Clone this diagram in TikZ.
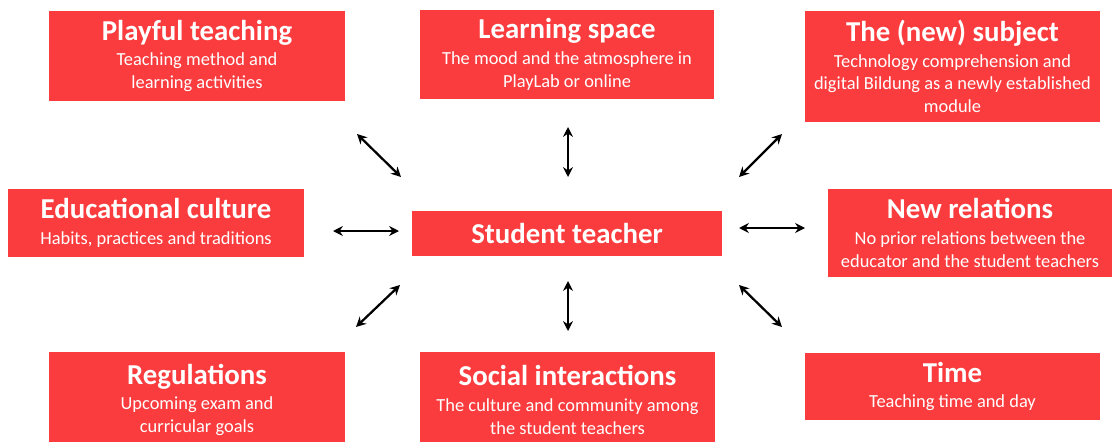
\documentclass[tikz,border=0pt]{standalone}
\usepackage{fontspec}
\setmainfont{Carlito}
\usetikzlibrary{arrows.meta,positioning}
\definecolor{boxred}{RGB}{250,60,62}
\newcommand{\boxtitle}[1]{{\fontsize{20.5}{23}\selectfont\bfseries #1}}

\begin{document}
\begin{tikzpicture}[
			x=0.025cm, y=-0.025cm,
			MyBox/.style={fill=boxred, text=white, align=center,
				inner sep=0pt, outer sep=0pt,
				font=\fontsize{13.1}{16.2}\selectfont},
			MyArrow/.style={line width=1.6pt, {Stealth[length=7pt, width=7pt]}-{Stealth[length=7pt, width=7pt]}},
			]
			\useasboundingbox (0,0) rectangle (1112,441);
			% outer boxes
			\node [MyBox, minimum width=7.4cm, minimum height=2.25cm] (pt) at (197,56)
				{\boxtitle{Playful teaching}\\[2pt] Teaching method and\\ learning activities};
			\node [MyBox, minimum width=7.35cm, minimum height=2.225cm] (ls) at (567,54.5)
				{\boxtitle{Learning space}\\[2pt] The mood and the atmosphere in\\ PlayLab or online};
			\node [MyBox, minimum width=7.375cm, minimum height=2.775cm] (ns) at (952.5,66.5)
				{\boxtitle{The (new) subject}\\[2pt] Technology comprehension and\\ digital Bildung as a newly established\\ module};
			\node [MyBox, minimum width=7.4cm, minimum height=1.7cm] (ec) at (156,223)
				{\boxtitle{Educational culture}\\[2pt] Habits, practices and traditions};
			\node [MyBox, minimum width=7.1cm, minimum height=2.2cm] (nr) at (970,233)
				{\boxtitle{New relations}\\[2pt] No prior relations between the\\ educator and the student teachers};
			\node [MyBox, minimum width=7.4cm, minimum height=2.4cm] (rg) at (197,400)
				{\boxtitle{Regulations}\\[2pt] Upcoming exam and\\ curricular goals};
			\node [MyBox, minimum width=7.375cm, minimum height=2.4cm] (si) at (567.5,400)
				{\boxtitle{Social interactions}\\[2pt] The culture and community among\\ the student teachers};
			\node [MyBox, minimum width=7.375cm, minimum height=1.675cm] (tm) at (952.5,386.5)
				{\boxtitle{Time}\\[2pt] Teaching time and day};
			% centre
			\node [MyBox, minimum width=7.75cm, minimum height=1.125cm] (st) at (567,233.5)
				{\boxtitle{Student teacher}};
			% arrow ends
			\coordinate (pt-a) at (401,177); \coordinate (pt-b) at (357,134);
			\coordinate (ls-a) at (568,177); \coordinate (ls-b) at (568,127);
			\coordinate (ns-a) at (739,177); \coordinate (ns-b) at (782,134);
			\coordinate (ec-a) at (399,231); \coordinate (ec-b) at (333,231);
			\coordinate (nr-a) at (739,228); \coordinate (nr-b) at (805,228);
			\coordinate (rg-a) at (400,285); \coordinate (rg-b) at (356,327);
			\coordinate (si-a) at (568,281); \coordinate (si-b) at (568,331);
			\coordinate (tm-a) at (739,285); \coordinate (tm-b) at (782,327);
			\begin{scope}[MyArrow]
				\draw (pt-a) -- (pt-b);
				\draw (ls-a) -- (ls-b);
				\draw (ns-a) -- (ns-b);
				\draw (ec-a) -- (ec-b);
				\draw (nr-a) -- (nr-b);
				\draw (rg-a) -- (rg-b);
				\draw (si-a) -- (si-b);
				\draw (tm-a) -- (tm-b);
			\end{scope}
		\end{tikzpicture}
\end{document}
